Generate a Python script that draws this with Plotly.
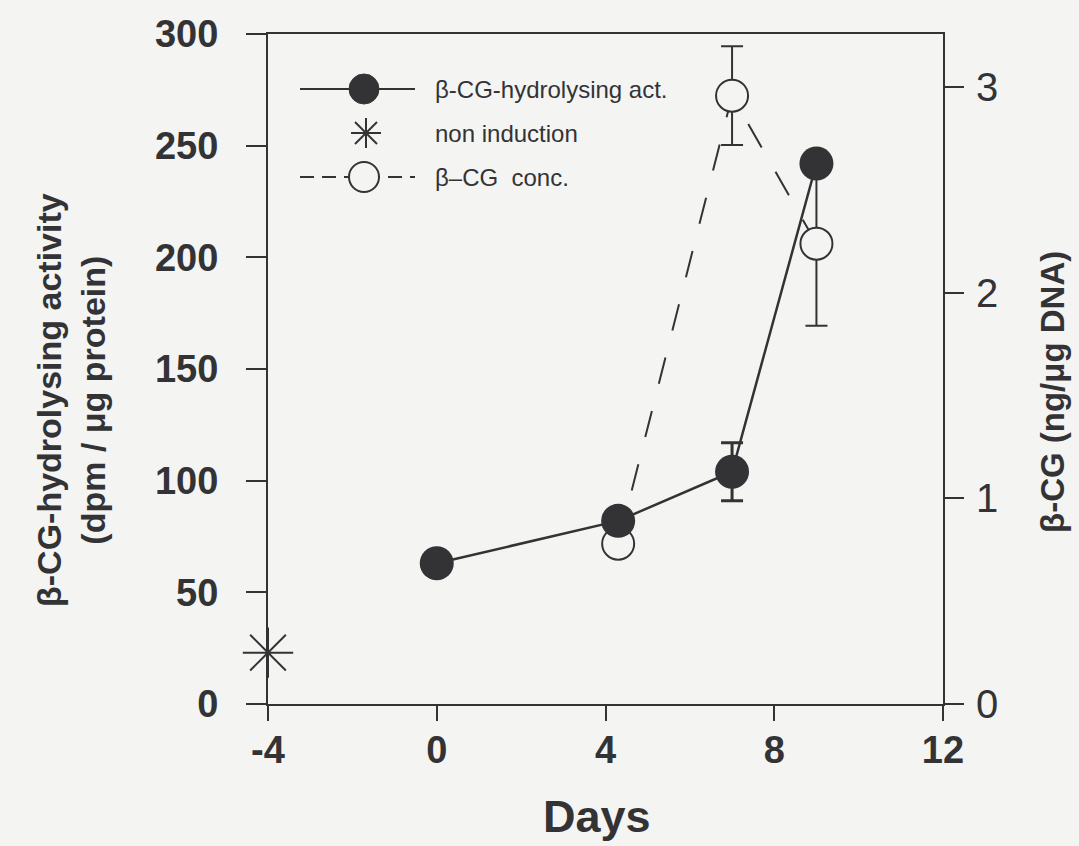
import plotly.graph_objects as go

# --- data -----------------------------------------------------------------
# beta-CG-hydrolysing activity (dpm / ug protein), filled circles
days_act = [0, 4.3, 7, 9]
activity = [63, 82, 104, 242]
activity_err = [None, None, 13, None]

# non-induced control
days_ctrl = [-4]
activity_ctrl = [23]

# beta-CG concentration (ng / ug DNA), open circles
days_conc = [4.3, 7, 9]
conc = [0.78, 2.96, 2.24]
conc_err = [None, 0.24, 0.40]

x_ticks = [-4, 0, 4, 8, 12]
x_ticklabels = ["-4", "0", "4", "8", "12"]
left_ticks = [0, 50, 100, 150, 200, 250, 300]
right_ticks = [0, 1, 2, 3]

legend_labels = ["β-CG-hydrolysing act.", "non induction", "β–CG\u00a0 conc."]

# --- style ----------------------------------------------------------------
BG = "#f4f4f3"
INK = "#333335"
FONT = "Liberation Sans, Arial, Helvetica, sans-serif"

W, H = 1079, 846
ML, MR, MT, MB = 268, 136, 34, 142
PW, PH = W - ML - MR, H - MT - MB


def fx(px):
    """pixel column -> paper x"""
    return (px - ML) / PW


def fy(py):
    """pixel row -> paper y"""
    return (H - MB - py) / PH


fig = go.Figure()

# concentration on the right-hand axis (drawn first, underneath)
fig.add_trace(go.Scatter(
    x=days_conc, y=conc, yaxis="y", name=legend_labels[2],
    mode="lines+markers",
    line=dict(color=INK, width=2, dash="27px,28px"),
    marker=dict(symbol="circle", size=32, color=BG,
                line=dict(color=INK, width=2)),
    error_y=dict(type="data", array=conc_err, color=INK,
                 thickness=2, width=11),
    cliponaxis=False,
))

# hydrolysing activity on the left-hand axis
fig.add_trace(go.Scatter(
    x=days_act, y=activity, yaxis="y2", name=legend_labels[0],
    mode="lines+markers",
    line=dict(color=INK, width=2.5),
    marker=dict(symbol="circle", size=34, color=INK),
    error_y=dict(type="data", array=activity_err, color=INK,
                 thickness=3, width=11),
    cliponaxis=False,
))

fig.add_trace(go.Scatter(
    x=days_ctrl, y=activity_ctrl, yaxis="y2", name=legend_labels[1],
    mode="markers",
    marker=dict(symbol="asterisk-open", size=42, color=INK,
                line=dict(color=INK, width=2)),
    cliponaxis=False,
))

tick_bold = dict(family=FONT, size=38, color=INK, weight="bold")

fig.update_layout(
    width=W, height=H,
    margin=dict(l=ML, r=MR, t=MT, b=MB),
    paper_bgcolor=BG, plot_bgcolor=BG,
    showlegend=False,
    xaxis=dict(
        range=[-4, 12], tickvals=x_ticks, ticktext=x_ticklabels,
        ticks="outside", ticklen=15, tickwidth=2, tickcolor=INK,
        showline=True, linecolor=INK, linewidth=2, mirror=True,
        showgrid=False, zeroline=False, tickfont=tick_bold,
        ticklabelstandoff=-4,
    ),
    yaxis=dict(
        side="right", range=[0, 3.26], tickvals=right_ticks,
        ticks="outside", ticklen=19, tickwidth=2, tickcolor=INK,
        showline=True, linecolor=INK, linewidth=2,
        showgrid=False, zeroline=False,
        tickfont=dict(family=FONT, size=40, color=INK),
        ticklabelstandoff=4,
    ),
    yaxis2=dict(
        side="left", overlaying="y", range=[0, 300], tickvals=left_ticks,
        ticks="outside", ticklen=20, tickwidth=2, tickcolor=INK,
        showline=True, linecolor=INK, linewidth=2,
        showgrid=False, zeroline=False, tickfont=tick_bold,
        ticklabelstandoff=20,
    ),
)

# axis titles
fig.add_annotation(
    xref="paper", yref="paper", x=fx(71), y=fy(400), showarrow=False,
    text="β-CG-hydrolysing activity<br>(dpm / μg protein)", textangle=-90,
    xanchor="center", yanchor="middle",
    font=dict(family=FONT, size=34, color=INK, weight="bold"),
)
fig.add_annotation(
    xref="paper", yref="paper", x=fx(1052), y=fy(392), showarrow=False,
    text="β-CG (ng/μg DNA)", textangle=-90,
    xanchor="center", yanchor="middle",
    font=dict(family=FONT, size=33, color=INK, weight="bold"),
)
fig.add_annotation(
    xref="paper", yref="paper", x=fx(597), y=fy(816), showarrow=False,
    text="Days", xanchor="center", yanchor="middle",
    font=dict(family=FONT, size=45, color=INK, weight="bold"),
)

# key in the upper-left corner of the plot
rows = [89, 133, 177]
line_x0, line_x1, glyph_x, text_x = 300, 415, 364, 433
R = 15

fig.add_shape(type="line", xref="paper", yref="paper",
              x0=fx(line_x0), x1=fx(line_x1), y0=fy(rows[0]), y1=fy(rows[0]),
              line=dict(color=INK, width=2))
fig.add_shape(type="circle", xref="paper", yref="paper",
              x0=fx(glyph_x - R), x1=fx(glyph_x + R),
              y0=fy(rows[0] + R), y1=fy(rows[0] - R),
              fillcolor=INK, line=dict(color=INK, width=1))

# asterisk glyph
for dx, dy in [(0, 15), (15, 0), (11, 11), (11, -11)]:
    fig.add_shape(type="line", xref="paper", yref="paper",
                  x0=fx(glyph_x + 2 - dx), x1=fx(glyph_x + 2 + dx),
                  y0=fy(rows[1] - dy), y1=fy(rows[1] + dy),
                  line=dict(color=INK, width=2))

fig.add_shape(type="line", xref="paper", yref="paper",
              x0=fx(line_x0), x1=fx(line_x1), y0=fy(rows[2]), y1=fy(rows[2]),
              line=dict(color=INK, width=2, dash="14px,8px"))
fig.add_shape(type="circle", xref="paper", yref="paper",
              x0=fx(glyph_x - R), x1=fx(glyph_x + R),
              y0=fy(rows[2] + R), y1=fy(rows[2] - R),
              fillcolor=BG, line=dict(color=INK, width=2))

for row, label in zip(rows, legend_labels):
    fig.add_annotation(
        xref="paper", yref="paper", x=fx(text_x), y=fy(row), showarrow=False,
        text=label, xanchor="left", yanchor="middle",
        font=dict(family=FONT, size=24, color=INK),
    )

fig.write_html("out.html")
